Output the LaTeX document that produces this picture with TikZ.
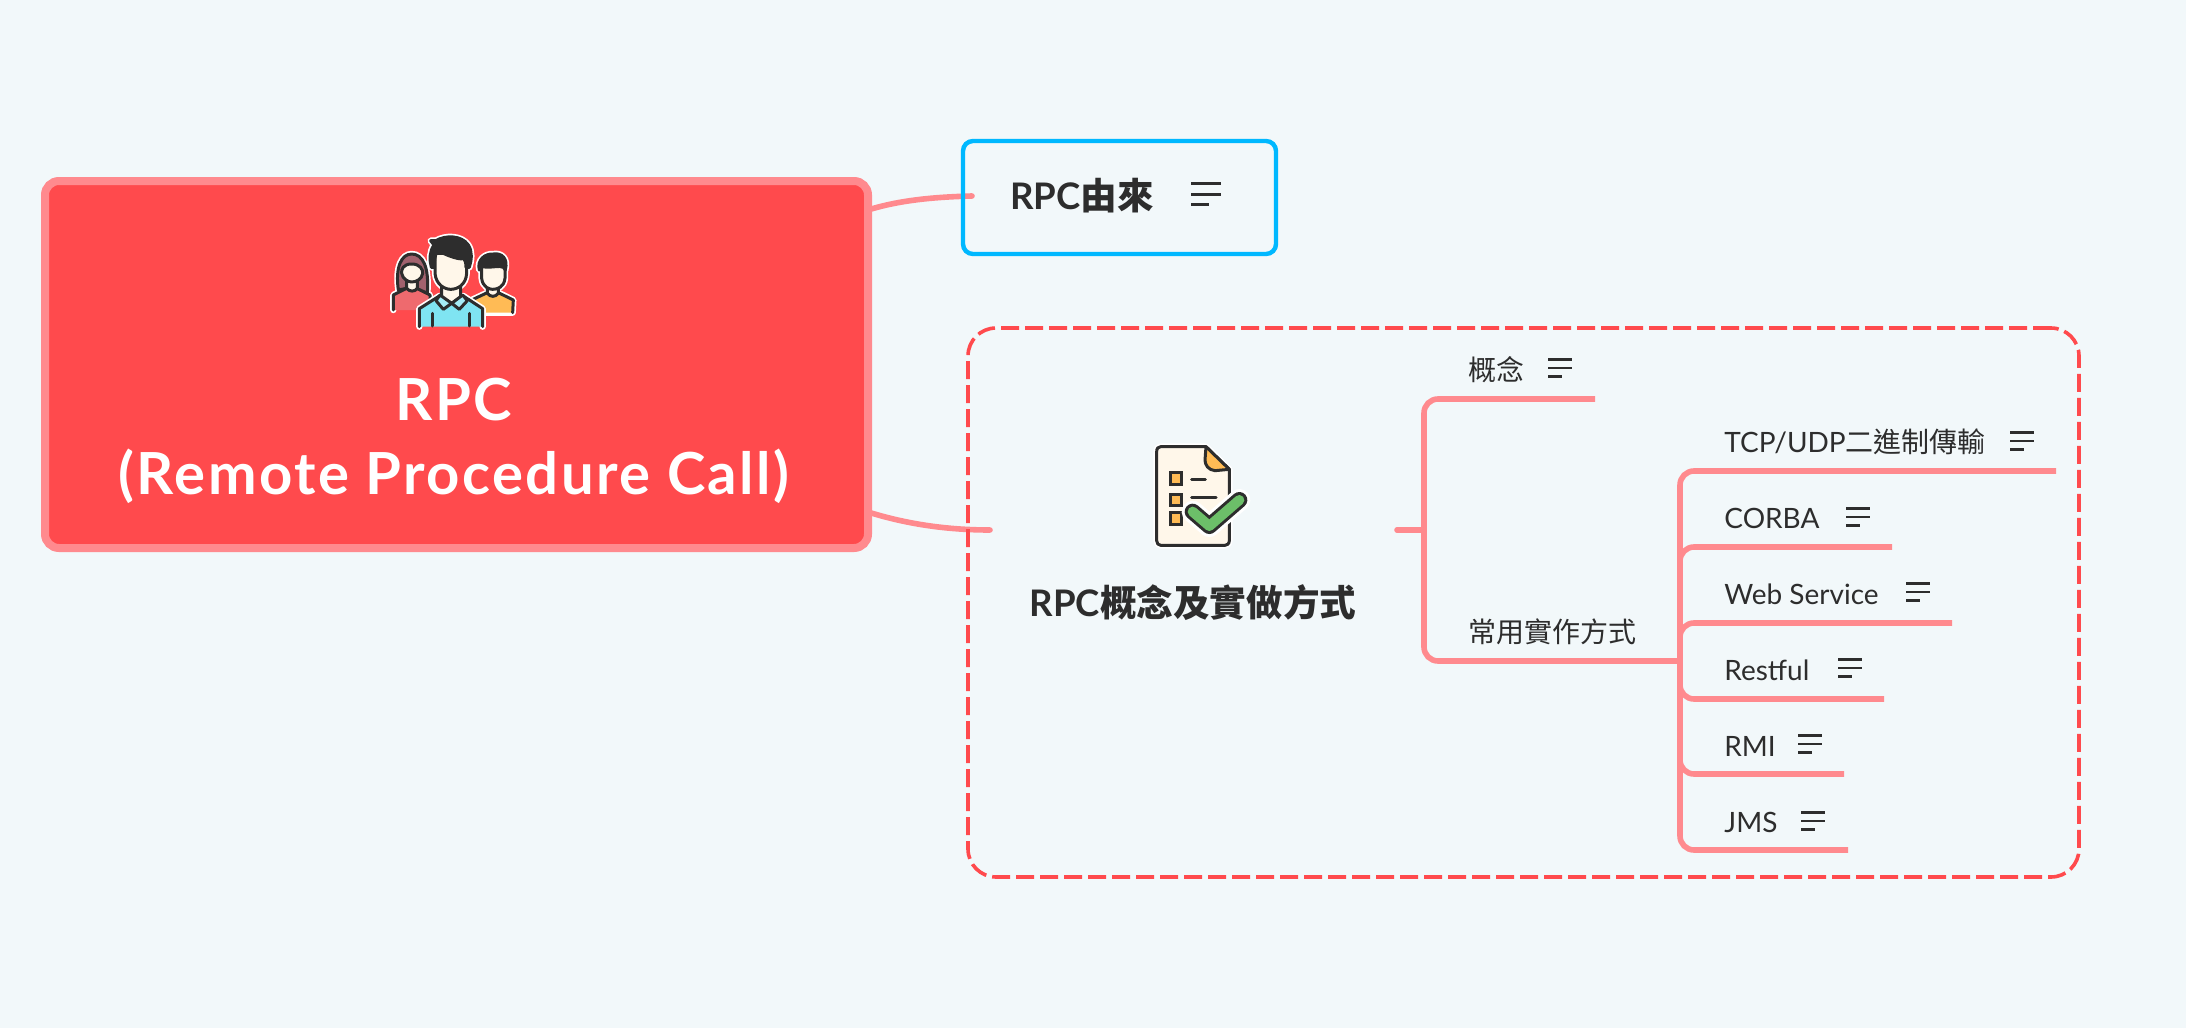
\documentclass[tikz,border=0pt]{standalone}
\usepackage{fontspec}
\setmainfont{Lato}
\newfontfamily\cjk{Noto Sans CJK TC}
\newcommand{\C}[1]{{\cjk #1}}
\definecolor{bgc}{HTML}{F2F8FA}
\definecolor{redf}{HTML}{FF4A4D}
\definecolor{pinkl}{HTML}{FF8A8E}
\definecolor{bluel}{HTML}{00B8FF}
\definecolor{inkc}{HTML}{2D2D2D}
\definecolor{creamc}{HTML}{FFF7EA}
\definecolor{orangec}{HTML}{FFBB55}
\definecolor{cyanc}{HTML}{7FE4F2}
\definecolor{hairc}{HTML}{A2626E}
\definecolor{rosec}{HTML}{EE6A6E}
\definecolor{greenc}{HTML}{6CBF69}
\tikzset{
  boxbase/.style={draw,rectangle,inner sep=0pt,outer sep=0pt},
  mainbox/.style={boxbase,draw=pinkl,fill=redf,line width=4pt,rounded corners=7pt,minimum width=411.5pt,minimum height=183.5pt},
  bluebox/.style={boxbase,draw=bluel,line width=2.2pt,rounded corners=5pt,minimum width=156.5pt,minimum height=56.5pt},
  groupbox/.style={boxbase,draw=redf,line width=1.8pt,dash pattern=on 9pt off 3pt,rounded corners=14pt,minimum width=555.5pt,minimum height=274.5pt},
  title/.style={text=white,font=\fontsize{29}{37}\selectfont\bfseries\addfontfeature{LetterSpace=4.2},align=center,inner sep=0pt},
  head/.style={text=inkc,font=\fontsize{18.3}{21}\selectfont\bfseries,inner sep=0pt},
  leaf/.style={text=inkc,font=\fontsize{14}{17}\selectfont,anchor=west,inner sep=0pt},
  curve/.style={draw=pinkl,line width=2.8pt,line cap=round},
  branch/.style={draw=pinkl,line width=2.8pt,rounded corners=7pt},
  ink/.style={draw=inkc,line width=1.5pt,line join=round,line cap=round},
  halo/.style={draw=white,line width=3.2pt,line join=round,line cap=round},
  bignotes/.pic={\draw[inkc,line width=1.5pt] (0,-10.5)--(30,-10.5) (0,0)--(30,0) (0,10.5)--(18,10.5);},
  smallnotes/.pic={\draw[inkc,line width=1.2pt] (0,-8.5)--(24,-8.5) (0,0)--(24,0) (0,8.5)--(14,8.5);}
}
\def\wbody{(100,300)--(100,255)--(140,235)--(172,235)--(210,255)--(210,300)}
\def\whair{(115,240) .. controls (105,170) and (125,132) .. (155,132) .. controls (188,132) and (208,170) .. (202,250) -- (170,235) -- (140,235) --cycle}
\def\rbody{(335,270)--(382,248)--(415,248)--(460,270)--(458,308)--(340,308)--cycle}
\def\rface{(365,165) -- (365,205) .. controls (368,232) and (388,238) .. (398,238) .. controls (412,238) and (432,232) .. (435,205) -- (435,165) -- cycle}
\def\rhair{(358,180) .. controls (350,150) and (375,130) .. (400,132) .. controls (425,128) and (445,145) .. (436,180) -- (430,172) .. controls (420,165) and (390,175) .. (368,170) -- cycle}
\def\cbody{(178,350)--(178,296)--(238,258)--(310,258)--(368,296)--(368,350)}
\def\cface{(225,130) -- (225,190) .. controls (228,225) and (255,238) .. (272,238) .. controls (292,238) and (318,225) .. (320,190) -- (320,130) -- cycle}
\def\chair{(212,92) -- (228,92) .. controls (255,75) and (305,75) .. (325,105) .. controls (338,125) and (335,150) .. (328,172) -- (318,172) .. controls (318,160) and (316,150) .. (310,146) .. controls (290,150) and (250,130) .. (232,122) .. controls (225,135) and (222,155) .. (222,172) -- (214,172) .. controls (208,150) and (208,125) .. (222,105) -- cycle}
\def\docpath{(122,80)--(258,80)--(328,148)--(328,362) ..controls (328,372) and (320,376) .. (315,376) -- (122,376) .. controls (115,376) and (110,370) .. (110,362) -- (110,95) .. controls (110,85) and (115,80) .. (122,80) -- cycle}
\begin{document}
\begin{tikzpicture}[x=0.5pt,y=-0.5pt]
\fill[bgc] (0,0) rectangle (2186,1028);
\useasboundingbox (0,0) rectangle (2186,1028);

\coordinate (c1a) at (868,210);
\coordinate (c1b) at (972,196);
\coordinate (c2a) at (868,512);
\coordinate (c2b) at (990,530);
\draw[curve] (c1a) .. controls (900,200) and (935,197) .. (c1b);
\draw[curve] (c2a) .. controls (900,522) and (940,530) .. (c2b);

\node[mainbox] (main) at (456.5,364.5) {};
\node[title] (titletext) at (454,441) {RPC\\(Remote Procedure Call)};
\node[bluebox] (origin) at (1119.5,197.5) {};
\node[head,anchor=west] (origintext) at (1010,195.5) {RPC\C{由來}};
\pic at (1191,194) {bignotes};
\node[groupbox] (group) at (1523.5,602.5) {};
\node[head] (grouptext) at (1193,603) {RPC\C{概念及實做方式}};

% branches
\coordinate (stub) at (1397,530);
\coordinate (hubA) at (1424,530);
\coordinate (endA) at (1595,399);
\coordinate (endB) at (1680,661);
\coordinate (hubB) at (1680,661);
\coordinate (e1) at (2056,471);
\coordinate (e2) at (1892,547);
\coordinate (e3) at (1952,623);
\coordinate (e4) at (1884,699);
\coordinate (e5) at (1844,774);
\coordinate (e6) at (1848,850);
\draw[curve] (stub) -- (hubA);
\draw[branch] (hubA) |- (endA);
\draw[branch] (hubA) |- (endB);
\draw[branch] (hubB) |- (e1);
\draw[branch] (hubB) |- (e2);
\draw[branch] (hubB) |- (e3);
\draw[branch] (hubB) |- (e4);
\draw[branch] (hubB) |- (e5);
\draw[branch] (hubB) |- (e6);

\node[leaf] (concept) at (1468,370) {\C{概念}};
\pic at (1548,368) {smallnotes};
\node[leaf] (usual) at (1468,632) {\C{常用實作方式}};
\node[leaf] (tcp) at (1724,442) {TCP/UDP\C{二進制傳輸}};
\pic at (2010,441) {smallnotes};
\node[leaf] (corba) at (1724,518) {CORBA};
\pic at (1846,517) {smallnotes};
\node[leaf] (web) at (1724,594) {Web Service};
\pic at (1906,592) {smallnotes};
\node[leaf] (rest) at (1724,670) {Restful};
\pic at (1838,668) {smallnotes};
\node[leaf] (rmi) at (1724,746) {RMI};
\pic at (1798,744) {smallnotes};
\node[leaf] (jms) at (1724,822) {JMS};
\pic at (1801,821) {smallnotes};

% people icon
\begin{scope}[shift={(360,210)},scale=1/3]
 % woman
 \path[halo] \wbody;
 \path[halo] \whair;
 \path[ink,fill=rosec] \wbody;
 \path[ink,fill=hairc] \whair;
 \path[ink,fill=creamc] (140,212)--(140,235) .. controls (148,246) and (165,246) .. (172,235)--(172,212)--cycle;
 \path[ink,fill=creamc] (155,162) .. controls (130,162) and (123,178) .. (125,190) .. controls (128,208) and (145,216) .. (155,216) .. controls (168,216) and (186,208) .. (188,190) .. controls (189,178) and (180,162) .. (155,162) -- cycle;
 % right man
 \path[halo] \rbody;
 \path[halo] \rface;
 \path[halo] \rhair;
 \path[fill=orangec] \rbody;
 \draw[ink] (340,308)--(335,270)--(382,248) (415,248)--(460,270)--(458,308);
 \path[ink,fill=creamc] (382,225)--(382,250) .. controls (392,262) and (405,262) .. (415,250)--(415,225)--cycle;
 \path[ink,fill=creamc] \rface;
 \path[ink,fill=inkc] \rhair;
 % centre man
 \path[halo] \cbody;
 \path[halo] \cface;
 \path[halo] \chair;
 \path[fill=cyanc] \cbody;
 \draw[ink] (178,350)--(178,296)--(238,258) (310,258)--(368,296)--(368,350);
 \draw[ink] (217,310)--(217,348) (327,310)--(327,348);
 \path[ink,fill=creamc] (245,222)--(245,262)--(275,280)--(302,262)--(302,222)--cycle;
 \path[ink,fill=cyanc!70!white] (240,255)--(275,280)--(250,298)--(228,272)--cycle;
 \path[ink,fill=cyanc!70!white] (308,255)--(275,280)--(298,298)--(322,272)--cycle;
 \path[ink,fill=creamc] \cface;
 \path[ink,fill=inkc] \chair;
\end{scope}

% checklist icon
\begin{scope}[shift={(1120,420)},scale=1/3]
 \path[halo] \docpath;
 \path[ink,fill=creamc] \docpath;
 \path[ink,fill=orangec] (258,80)--(328,148)--(285,152) .. controls (265,150) and (255,135) .. (255,120) -- cycle;
 \foreach \yy in {158,222,278}{
  \path[draw=inkc,line width=1.5pt,fill=orangec] (150,\yy) rectangle (185,\yy+35);
 }
 \draw[ink] (215,177)--(256,177) (215,233)--(288,233);
 \draw[white,line width=11pt,line cap=round,line join=round] (218,275)--(268,318)--(358,240);
 \draw[inkc,line width=8pt,line cap=round,line join=round] (218,275)--(268,318)--(358,240);
 \draw[greenc,line width=5pt,line cap=round,line join=round] (218,275)--(268,318)--(358,240);
\end{scope}
\end{tikzpicture}
\end{document}
